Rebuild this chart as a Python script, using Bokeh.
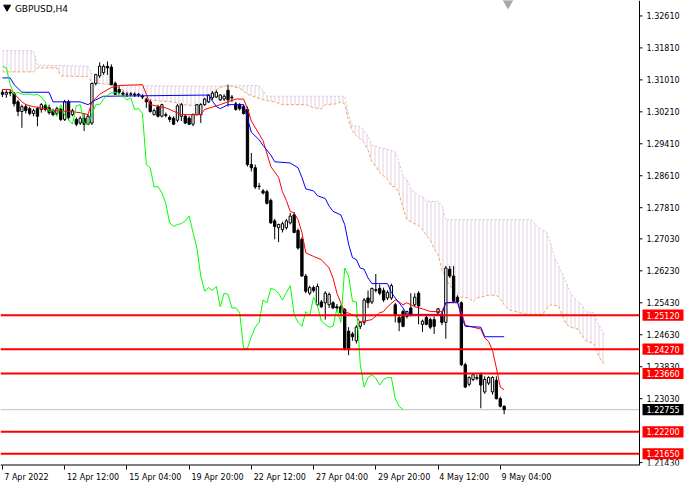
from bokeh.core.properties import value
from bokeh.embed import file_html
from bokeh.models import FixedTicker, Label, Range1d
from bokeh.plotting import figure
from bokeh.resources import INLINE

PLOT_W = 684
PLOT_H = 484
BORDER_BOTTOM = 17
CHART_W = 639          # width of the candle area, left of the price scale
X_START = -0.5
AXIS_X = 163.8         # bar position of the price scale line
Y_START = 1.21357
Y_END = 1.32997
FONT = "DejaVu Sans"
CHIKOU_SHIFT = 26

# GBPUSD H4 candles
open_ = [1.3070, 1.3065, 1.3070, 1.3068, 1.3046, 1.3022, 1.3034, 1.3029, 1.3017, 1.3029,
         1.3027, 1.3036, 1.3031, 1.3024, 1.3017, 1.3027, 1.3002, 1.3046, 1.3014, 1.3002,
         1.2993, 1.3005, 1.2990, 1.2993, 1.3092, 1.3111, 1.3119, 1.3135, 1.3133, 1.3092,
         1.3077, 1.3068, 1.3065, 1.3065, 1.3065, 1.3063, 1.3060, 1.3051, 1.3046, 1.3014,
         1.3034, 1.3010, 1.3014, 1.3007, 1.3005, 1.3000, 1.3010, 1.3010, 1.3005, 1.2990,
         1.3014, 1.3014, 1.3039, 1.3046, 1.3056, 1.3058, 1.3051, 1.3053, 1.3075, 1.3058,
         1.3041, 1.3039, 1.3034, 1.3027, 1.2889, 1.2881, 1.2835, 1.2823, 1.2821, 1.2799,
         1.2748, 1.2731, 1.2726, 1.2731, 1.2743, 1.2763, 1.2724, 1.2702, 1.2610, 1.2567,
         1.2581, 1.2538, 1.2545, 1.2543, 1.2538, 1.2543, 1.2533, 1.2533, 1.2526, 1.2472,
         1.2465, 1.2448, 1.2484, 1.2494, 1.2555, 1.2545, 1.2574, 1.2579, 1.2574, 1.2555,
         1.2555, 1.2538, 1.2506, 1.2521, 1.2509, 1.2530, 1.2538, 1.2567, 1.2489, 1.2506,
         1.2501, 1.2501, 1.2518, 1.2514, 1.2494, 1.2627, 1.2610, 1.2557, 1.2543, 1.2388,
         1.2339, 1.2351, 1.2356, 1.2363, 1.2320, 1.2342, 1.2320, 1.2349, 1.2303, 1.2284]
high = [1.3077, 1.3075, 1.3077, 1.3070, 1.3051, 1.3039, 1.3041, 1.3034, 1.3029, 1.3034,
        1.3043, 1.3041, 1.3039, 1.3029, 1.3034, 1.3031, 1.3051, 1.3051, 1.3029, 1.3007,
        1.3010, 1.3017, 1.3014, 1.3094, 1.3116, 1.3145, 1.3140, 1.3147, 1.3140, 1.3097,
        1.3085, 1.3073, 1.3070, 1.3070, 1.3070, 1.3068, 1.3065, 1.3056, 1.3051, 1.3029,
        1.3039, 1.3041, 1.3019, 1.3012, 1.3010, 1.3041, 1.3043, 1.3014, 1.3010, 1.3017,
        1.3041, 1.3043, 1.3056, 1.3065, 1.3073, 1.3075, 1.3065, 1.3065, 1.3089, 1.3063,
        1.3046, 1.3043, 1.3039, 1.3034, 1.2918, 1.2889, 1.2843, 1.2828, 1.2826, 1.2804,
        1.2753, 1.2741, 1.2746, 1.2753, 1.2768, 1.2770, 1.2729, 1.2707, 1.2615, 1.2586,
        1.2586, 1.2591, 1.2550, 1.2572, 1.2569, 1.2547, 1.2540, 1.2538, 1.2530, 1.2482,
        1.2470, 1.2487, 1.2497, 1.2555, 1.2574, 1.2581, 1.2615, 1.2589, 1.2581, 1.2574,
        1.2591, 1.2543, 1.2511, 1.2526, 1.2523, 1.2567, 1.2567, 1.2572, 1.2501, 1.2511,
        1.2506, 1.2509, 1.2530, 1.2521, 1.2635, 1.2635, 1.2635, 1.2562, 1.2547, 1.2393,
        1.2359, 1.2366, 1.2363, 1.2368, 1.2359, 1.2359, 1.2359, 1.2359, 1.2308, 1.2286]
low = [1.3058, 1.3056, 1.3060, 1.3034, 1.3010, 1.2981, 1.3017, 1.3012, 1.3010, 1.2985,
       1.3019, 1.3022, 1.3014, 1.3010, 1.3012, 1.2998, 1.2998, 1.3000, 1.3010, 1.2985,
       1.2988, 1.2973, 1.2988, 1.2988, 1.3087, 1.3106, 1.3114, 1.3114, 1.3087, 1.3063,
       1.3065, 1.3058, 1.3058, 1.3060, 1.3058, 1.3058, 1.3053, 1.3031, 1.3019, 1.3012,
       1.3007, 1.3007, 1.3007, 1.2995, 1.2988, 1.2995, 1.2998, 1.2990, 1.2988, 1.2985,
       1.3012, 1.2993, 1.3036, 1.3043, 1.3051, 1.3056, 1.3048, 1.3048, 1.3034, 1.3046,
       1.3024, 1.3024, 1.3014, 1.2884, 1.2872, 1.2828, 1.2826, 1.2814, 1.2789, 1.2741,
       1.2702, 1.2695, 1.2719, 1.2726, 1.2739, 1.2717, 1.2676, 1.2608, 1.2567, 1.2562,
       1.2569, 1.2535, 1.2530, 1.2501, 1.2530, 1.2528, 1.2521, 1.2516, 1.2424, 1.2412,
       1.2448, 1.2441, 1.2477, 1.2487, 1.2530, 1.2540, 1.2569, 1.2562, 1.2545, 1.2550,
       1.2550, 1.2494, 1.2472, 1.2482, 1.2504, 1.2509, 1.2533, 1.2489, 1.2470, 1.2487,
       1.2477, 1.2465, 1.2511, 1.2487, 1.2453, 1.2605, 1.2545, 1.2543, 1.2385, 1.2330,
       1.2334, 1.2347, 1.2349, 1.2279, 1.2315, 1.2337, 1.2313, 1.2301, 1.2281, 1.2264]
close = [1.3065, 1.3070, 1.3068, 1.3041, 1.3022, 1.3034, 1.3024, 1.3017, 1.3024, 1.3010,
         1.3039, 1.3027, 1.3019, 1.3014, 1.3029, 1.3002, 1.3046, 1.3007, 1.3024, 1.2990,
         1.3005, 1.2990, 1.3010, 1.3092, 1.3114, 1.3135, 1.3135, 1.3131, 1.3089, 1.3065,
         1.3070, 1.3065, 1.3065, 1.3066, 1.3063, 1.3065, 1.3058, 1.3046, 1.3022, 1.3024,
         1.3010, 1.3039, 1.3012, 1.3002, 1.2990, 1.3036, 1.3039, 1.2993, 1.2990, 1.3014,
         1.3039, 1.3039, 1.3053, 1.3063, 1.3068, 1.3070, 1.3063, 1.3060, 1.3051, 1.3056,
         1.3027, 1.3029, 1.3017, 1.2889, 1.2881, 1.2833, 1.2834, 1.2818, 1.2792, 1.2743,
         1.2734, 1.2739, 1.2741, 1.2748, 1.2760, 1.2719, 1.2680, 1.2610, 1.2572, 1.2581,
         1.2574, 1.2584, 1.2533, 1.2567, 1.2564, 1.2530, 1.2530, 1.2518, 1.2429, 1.2429,
         1.2458, 1.2482, 1.2494, 1.2550, 1.2543, 1.2579, 1.2576, 1.2567, 1.2550, 1.2569,
         1.2586, 1.2514, 1.2494, 1.2484, 1.2521, 1.2511, 1.2557, 1.2535, 1.2497, 1.2489,
         1.2482, 1.2484, 1.2528, 1.2494, 1.2630, 1.2610, 1.2547, 1.2545, 1.2388, 1.2332,
         1.2356, 1.2363, 1.2354, 1.2337, 1.2351, 1.2356, 1.2356, 1.2303, 1.2284, 1.22755]

# Ichimoku lines, read at their turning points (bar index, price)
tenkan_bar = [0, 2, 5, 6, 8, 11, 13, 17, 20, 22, 23, 25, 28, 30, 36, 37, 38, 42, 46, 51,
              52, 56, 60, 62, 63, 64, 67, 69, 71, 72, 73, 74, 75, 76, 77, 78, 80, 82, 84, 85,
              86, 87, 88, 91, 92, 93, 95, 97, 98, 99, 101, 102, 103, 104, 106, 108, 110, 113, 114, 117,
              118, 119, 123, 124, 125, 126, 127, 128, 129]
tenkan_val = [1.3077, 1.3077, 1.3046, 1.3039, 1.3034, 1.3029, 1.3024, 1.3022, 1.3019, 1.3014,
              1.3046, 1.3065, 1.3082, 1.3087, 1.3089, 1.3065, 1.3039, 1.3031, 1.3014, 1.3014,
              1.3027, 1.3039, 1.3053, 1.3053, 1.3029, 1.2998, 1.2949, 1.2884, 1.2857, 1.2821,
              1.2799, 1.2772, 1.2768, 1.2751, 1.2719, 1.2668, 1.2659, 1.2651, 1.2630, 1.2605,
              1.2567, 1.2543, 1.2521, 1.2509, 1.2494, 1.2497, 1.2501, 1.2518, 1.2521, 1.2533,
              1.2550, 1.2545, 1.2538, 1.2543, 1.2533, 1.2528, 1.2521, 1.2521, 1.2543, 1.2543,
              1.2521, 1.2487, 1.2477, 1.2455, 1.2446, 1.2424, 1.2380, 1.2332, 1.2325]

kijun_bar = [0, 2, 3, 5, 12, 13, 20, 22, 24, 26, 53, 54, 55, 56, 58, 62, 63, 64, 66, 67,
             69, 70, 74, 76, 77, 78, 80, 81, 83, 84, 85, 87, 88, 89, 90, 91, 92, 93, 94, 95,
             99, 100, 101, 102, 103, 104, 113, 114, 117, 118, 119, 123, 124, 129]
kijun_val = [1.3106, 1.3106, 1.3089, 1.3070, 1.3070, 1.3046, 1.3046, 1.3039, 1.3051, 1.3060,
             1.3063, 1.3048, 1.3034, 1.3029, 1.3039, 1.3039, 1.3005, 1.2970, 1.2951, 1.2937,
             1.2913, 1.2896, 1.2893, 1.2881, 1.2857, 1.2828, 1.2823, 1.2811, 1.2804, 1.2785,
             1.2772, 1.2763, 1.2739, 1.2690, 1.2656, 1.2651, 1.2630, 1.2627, 1.2605, 1.2591,
             1.2591, 1.2569, 1.2555, 1.2543, 1.2530, 1.2514, 1.2514, 1.2543, 1.2545, 1.2509,
             1.2484, 1.2482, 1.2458, 1.2458]

span_a_bar = [0, 8, 9, 14, 15, 22, 23, 28, 29, 32, 35, 36, 40, 44, 46, 51, 53, 54, 55, 56,
              58, 61, 63, 65, 67, 70, 72, 78, 80, 82, 83, 86, 87, 88, 89, 90, 91, 92, 93, 94,
              95, 96, 97, 99, 100, 101, 102, 103, 104, 106, 107, 108, 109, 110, 111, 112, 113, 114, 115, 116,
              117, 118, 120, 121, 122, 123, 125, 127, 128, 129, 130, 132, 133, 135, 139, 140, 141, 143, 144, 145,
              146, 148, 149, 150, 152, 153, 154, 155]
span_a_val = [1.3121, 1.3121, 1.3131, 1.3131, 1.3111, 1.3109, 1.3094, 1.3089, 1.3085, 1.3070,
              1.3063, 1.3056, 1.3048, 1.3046, 1.3039, 1.3036, 1.3046, 1.3065, 1.3077, 1.3082,
              1.3087, 1.3080, 1.3065, 1.3058, 1.3051, 1.3046, 1.3039, 1.3039, 1.3031, 1.3029,
              1.3039, 1.3041, 1.3046, 1.3041, 1.2998, 1.2973, 1.2961, 1.2954, 1.2944, 1.2925,
              1.2896, 1.2884, 1.2869, 1.2852, 1.2835, 1.2833, 1.2816, 1.2780, 1.2751, 1.2741,
              1.2736, 1.2726, 1.2712, 1.2700, 1.2678, 1.2664, 1.2627, 1.2603, 1.2586, 1.2574,
              1.2567, 1.2557, 1.2555, 1.2545, 1.2555, 1.2557, 1.2562, 1.2562, 1.2552, 1.2538,
              1.2526, 1.2521, 1.2518, 1.2514, 1.2514, 1.2530, 1.2538, 1.2535, 1.2509, 1.2489,
              1.2482, 1.2477, 1.2460, 1.2448, 1.2441, 1.2417, 1.2397, 1.2388]

span_b_bar = [0, 8, 9, 22, 23, 28, 29, 52, 66, 68, 88, 89, 90, 92, 94, 95, 101, 102, 103, 104,
              105, 107, 108, 109, 112, 113, 114, 136, 137, 139, 140, 141, 142, 143, 144, 145, 146, 147, 149, 150,
              152, 153, 154, 155]
span_b_val = [1.3174, 1.3174, 1.3138, 1.3135, 1.3116, 1.3114, 1.3087, 1.3085, 1.3087, 1.3060,
              1.3060, 1.3014, 1.2985, 1.2985, 1.2961, 1.2937, 1.2922, 1.2893, 1.2860, 1.2852,
              1.2828, 1.2811, 1.2809, 1.2797, 1.2797, 1.2787, 1.2751, 1.2751, 1.2739, 1.2724,
              1.2719, 1.2690, 1.2656, 1.2635, 1.2615, 1.2593, 1.2569, 1.2555, 1.2538, 1.2521,
              1.2518, 1.2494, 1.2477, 1.2460]

level_prices = [1.25120, 1.24270, 1.23660, 1.22200, 1.21650]
bid_price = 1.22755
price_ticks = [1.32610, 1.31810, 1.31010, 1.30210, 1.29410, 1.28610, 1.27810, 1.27030,
               1.26230, 1.25430, 1.24630, 1.23830, 1.23030, 1.21430]
time_tick_bars = [0, 16, 32, 48, 64, 80, 96, 112, 128]
time_tick_labels = ["7 Apr 2022", "12 Apr 12:00", "15 Apr 04:00", "19 Apr 20:00", "22 Apr 12:00",
                    "27 Apr 04:00", "29 Apr 20:00", "4 May 12:00", "9 May 04:00"]

bar_px = CHART_W / (AXIS_X - X_START)
price_px = (PLOT_H - 25) / (Y_END - Y_START)
X_END = X_START + PLOT_W / bar_px

p = figure(width=PLOT_W, height=PLOT_H, x_range=Range1d(X_START, X_END),
           y_range=Range1d(Y_START, Y_END), y_axis_location=None,
           toolbar_location=None, output_backend="svg",
           min_border_left=0, min_border_top=0, min_border_right=0,
           min_border_bottom=BORDER_BOTTOM)
p.grid.visible = False
p.outline_line_color = None

# kumo: hatched band between the two senkou spans
cloud_x = span_a_bar + span_b_bar[::-1]
cloud_y = span_a_val + span_b_val[::-1]
p.patch(cloud_x, cloud_y, fill_color=None, line_color=None,
        hatch_pattern="vertical_line", hatch_color="#D8BFD8", hatch_alpha=0.75,
        hatch_scale=4, hatch_weight=1)
p.line(span_b_bar, span_b_val, line_color="#D8BFD8", line_width=1, line_dash="2 2")
p.line(span_a_bar, span_a_val, line_color="#F4A460", line_width=1, line_dash="3 2")

p.segment(x0=[X_START], y0=[bid_price], x1=[AXIS_X], y1=[bid_price],
          line_color="#C0C0C0", line_width=1)

bars = list(range(len(close)))
body_top = [max(o, c) for o, c in zip(open_, close)]
body_bot = [min(o, c) for o, c in zip(open_, close)]
body_fill = ["white" if c >= o else "black" for o, c in zip(open_, close)]
p.segment(bars, high, bars, low, line_color="black", line_width=1)
p.vbar(x=bars, top=body_top, bottom=body_bot, width=0.6,
       fill_color=body_fill, line_color="black", line_width=1)

p.line(tenkan_bar, tenkan_val, line_color="#FF0000", line_width=1)
p.line(kijun_bar, kijun_val, line_color="#0000FF", line_width=1)
p.line(bars[:-CHIKOU_SHIFT], close[CHIKOU_SHIFT:], line_color="#00FF00", line_width=1)

n_lev = len(level_prices)
p.segment(x0=[X_START] * n_lev, y0=level_prices, x1=[AXIS_X] * n_lev, y1=level_prices,
          line_color="#FF0000", line_width=2)

# title and the little chart markers
p.scatter([1.2], [1.3283], marker="inverted_triangle", size=7, color="black")
p.scatter([130], [1.3294], marker="inverted_triangle", size=10, color="#A8A8A8")
p.add_layout(Label(x=3.2, y=Y_END, text="GBPUSD,H4", text_font=FONT, text_font_size="9px",
                   text_color="black", text_baseline="top", text_align="left", y_offset=-3))

# price scale on the right, inside the frame so that the level tags can overlap it
n_tick = len(price_ticks)
p.vspan(x=[AXIS_X], line_color="black", line_width=1)
p.segment(x0=[X_START], y0=[Y_START], x1=[AXIS_X], y1=[Y_START],
          line_color="black", line_width=2)
p.segment(x0=[AXIS_X] * n_tick, y0=price_ticks, x1=[AXIS_X + 3 / bar_px] * n_tick,
          y1=price_ticks, line_color="black", line_width=1)
p.text(x=[AXIS_X + 7 / bar_px] * n_tick, y=price_ticks,
       text=["%.5f" % t for t in price_ticks], text_font=value(FONT),
       text_font_size="8px", text_color="black", text_align="left", text_baseline="middle")

tag_prices = level_prices + [bid_price]
tag_colors = ["#FF0000"] * n_lev + ["black"]
tag_left = AXIS_X + 3 / bar_px
tag_right = tag_left + 41 / bar_px
tag_half = 5.5 / price_px
p.quad(left=[tag_left] * len(tag_prices), right=[tag_right] * len(tag_prices),
       top=[v + tag_half for v in tag_prices], bottom=[v - tag_half for v in tag_prices],
       fill_color=tag_colors, line_color=None)
p.text(x=[tag_left + 4 / bar_px] * len(tag_prices), y=tag_prices,
       text=["%.5f" % v for v in tag_prices], text_font=value(FONT),
       text_font_size="8px", text_color="white", text_align="left", text_baseline="middle")

# time axis: ticks at bars, labels sit to the right of their tick
label_centers = [round(b + (len(t) * 4.4 / 2 + 2) / bar_px, 2)
                 for b, t in zip(time_tick_bars, time_tick_labels)]
xa = p.xaxis[0]
xa.ticker = FixedTicker(ticks=label_centers, minor_ticks=time_tick_bars)
xa.major_label_overrides = dict(zip(label_centers, time_tick_labels))
xa.axis_line_color = None
xa.major_tick_line_color = None
xa.major_tick_out = 4
xa.major_tick_in = 0
xa.minor_tick_line_color = "black"
xa.minor_tick_out = 4
xa.minor_tick_in = 0
xa.major_label_standoff = 3
xa.major_label_text_font = FONT
xa.major_label_text_font_size = "8px"
xa.major_label_text_color = "black"

open("out.html", "w").write(file_html(p, INLINE))
